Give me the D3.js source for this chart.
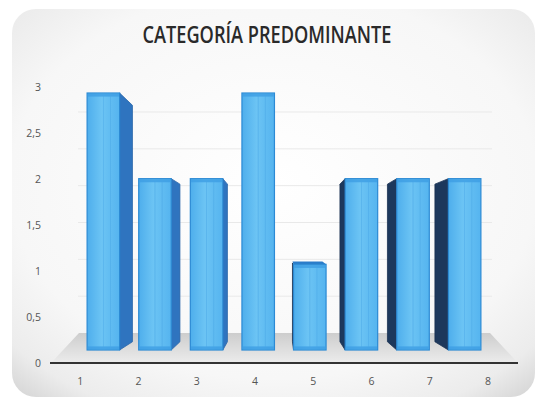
<!DOCTYPE html>
<html><head><meta charset="utf-8">
<script src="https://cdn.jsdelivr.net/npm/d3@7"></script>
<style>html,body{margin:0;padding:0;background:#fff;overflow:hidden}</style>
</head><body>
<svg id="c" width="537" height="398"></svg>
<script>
const categories = ["1","2","3","4","5","6","7","8"];
const values = [3, 2, 2, 3, 1, 2, 2, 2];
const yTicks = [0, 0.5, 1, 1.5, 2, 2.5, 3];
const yTickLabels = ["0","0,5","1","1,5","2","2,5","3"];
const title = "CATEGORÍA PREDOMINANTE";

const svg = d3.select("#c");
const defs = svg.append("defs");

// card background
const rg = defs.append("radialGradient").attr("id","bg").attr("cx","50%").attr("cy","45%").attr("r","72%");
rg.append("stop").attr("offset","0%").attr("stop-color","#ffffff");
rg.append("stop").attr("offset","70%").attr("stop-color","#f7f7f7");
rg.append("stop").attr("offset","90%").attr("stop-color","#ececec");
rg.append("stop").attr("offset","100%").attr("stop-color","#d9d9d9");
svg.append("rect").attr("x",12).attr("y",9).attr("width",523).attr("height",388).attr("rx",24).attr("fill","url(#bg)");

// floor gradient
const fg = defs.append("linearGradient").attr("id","floor").attr("x1",0).attr("y1",0).attr("x2",0).attr("y2",1);
fg.append("stop").attr("offset","0%").attr("stop-color","#cdcdcd");
fg.append("stop").attr("offset","100%").attr("stop-color","#ececec");

// front face gradient
const ff = defs.append("linearGradient").attr("id","front").attr("x1",0).attr("y1",0).attr("x2",1).attr("y2",0);
ff.append("stop").attr("offset","0%").attr("stop-color","#4eaeec");
ff.append("stop").attr("offset","45%").attr("stop-color","#6cc4f4");
ff.append("stop").attr("offset","100%").attr("stop-color","#55b4ef");

// scales
const yAxisScale = d3.scaleLinear().domain([0,3]).range([363, 87]);
const yBar = d3.scaleLinear().domain([0,3]).range([350, 93]);
const yWall = d3.scaleLinear().domain([0,3]).range([333, 112]);
const xBar = d3.scaleBand().domain(categories).range([68, 500]).padding(0.37);
const xLab = d3.scaleBand().domain(categories).range([51, 517]);

// back wall gridlines
svg.append("g").selectAll("line").data(yTicks.slice(1)).join("line")
  .attr("x1",78).attr("x2",492)
  .attr("y1",d=>yWall(d)).attr("y2",d=>yWall(d))
  .attr("stroke","#e9e9e9").attr("stroke-width",1);

// floor
const fl = xLab.range()[0], fr = xLab.range()[1], fy = yAxisScale(0), by = yWall(0);
svg.append("polygon")
  .attr("points",[[fl,fy],[fr+1,fy],[fr-27,by],[fl+28,by]].map(p=>p.join(",")).join(" "))
  .attr("fill","url(#floor)");

// bars with simple perspective
const xv = 280, yv = 247, s = 0.92;
const px = x => xv + (x - xv) * s;
const py = y => yv + (y - yv) * s;
const pts = a => a.map(p=>p.join(",")).join(" ");

const g = svg.append("g");
categories.forEach((c,i) => {
  const v = values[i];
  const x0 = xBar(c), x1 = x0 + xBar.bandwidth();
  const yT = yBar(v), yB = yBar(0);
  const bx0 = px(x0), bx1 = px(x1), byT = py(yT), byB = py(yB);
  if (bx1 > x1 + 0.5) {
    g.append("polygon").attr("points",pts([[x1,yT],[bx1,byT],[bx1,byB],[x1,yB]]))
      .attr("fill","#2f74bf").attr("stroke","#2a66a8").attr("stroke-width",0.8);
  }
  if (bx0 < x0 - 0.5) {
    g.append("polygon").attr("points",pts([[x0,yT],[bx0,byT],[bx0,byB],[x0,yB]]))
      .attr("fill","#1d385c").attr("stroke","#1a3152").attr("stroke-width",0.8);
  }
  if (byT < yT - 0.3) {
    g.append("polygon").attr("points",pts([[x0,yT],[x1,yT],[bx1,byT-1.5],[bx0,byT-1.5]]))
      .attr("fill","#2a7cc9");
  }
  g.append("rect").attr("x",x0).attr("y",yT).attr("width",x1-x0).attr("height",yB-yT)
    .attr("fill","url(#front)").attr("stroke","#2c8ad4").attr("stroke-width",1.2);
  g.append("rect").attr("x",x0+0.6).attr("y",yT+0.6).attr("width",x1-x0-1.2).attr("height",3)
    .attr("fill","#3d9ee3").attr("opacity",0.8);
  g.append("rect").attr("x",x0+0.6).attr("y",yB-3.6).attr("width",x1-x0-1.2).attr("height",3)
    .attr("fill","#3d9ee3").attr("opacity",0.8);
  [0.5, 0.72].forEach(f => {
    g.append("line").attr("x1",x0+(x1-x0)*f).attr("x2",x0+(x1-x0)*f)
      .attr("y1",yT+3).attr("y2",yB-3).attr("stroke","#4aa8e6").attr("stroke-width",0.7).attr("opacity",0.7);
  });
});

// axis line
svg.append("line").attr("x1",fl-1).attr("x2",fr+1).attr("y1",fy).attr("y2",fy)
  .attr("stroke","#333").attr("stroke-width",2.2);

const font = "'Open Sans','DejaVu Sans Condensed',sans-serif";

// y axis labels
const yAx = d3.axisLeft(yAxisScale).tickValues(yTicks).tickSize(0).tickPadding(0)
  .tickFormat((d,i)=>yTickLabels[i]);
const ya = svg.append("g").attr("transform","translate(41,0)").call(yAx);
ya.select(".domain").remove();
ya.selectAll("text").attr("font-family",font).attr("font-size",10.5).attr("fill","#555");

// x axis labels
const xAx = d3.axisBottom(xLab).tickSize(0).tickPadding(0);
const xa = svg.append("g").attr("transform","translate(0,378)").call(xAx);
xa.select(".domain").remove();
xa.selectAll("text").attr("font-family",font).attr("font-size",10.5).attr("fill","#555");

// title
svg.append("text").attr("x",267).attr("y",43).attr("text-anchor","middle")
  .attr("font-family",font).attr("font-size",24).attr("font-weight",600).attr("fill","#2a2a2a")
  .attr("textLength",249).attr("lengthAdjust","spacingAndGlyphs")
  .text(title);
</script>
</body></html>
